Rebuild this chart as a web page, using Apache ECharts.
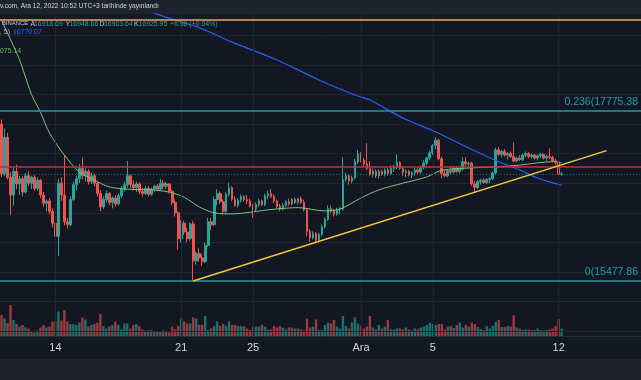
<!DOCTYPE html>
<html><head><meta charset="utf-8">
<script src="https://cdn.jsdelivr.net/npm/echarts@6/dist/echarts.min.js"></script>
<style>html,body{margin:0;padding:0;background:#131722;overflow:hidden}#c{width:641px;height:380px}</style>
</head><body><div id="c"></div>
<script>
// 4h candles, BTC/USDT Binance, 11 Nov 2022 03:00 (UTC+3) .. 12 Dec 2022 07:00
// rows: [open, high, low, close]
const ohlc = [
[17600,17660,16880,16930],[16930,17540,16900,17420],[17420,17480,16850,16880],[16880,16950,16370,16640],
[16640,17020,16500,16960],[16960,17050,16720,16790],[16790,16900,16640,16860],[16860,16890,16620,16680],
[16680,16940,16660,16900],[16900,16960,16760,16800],[16800,16900,16720,16880],[16880,16910,16700,16730],
[16730,16880,16700,16840],[16840,16860,16600,16640],[16640,16680,16480,16530],[16530,16580,16420,16560],
[16560,16600,16380,16420],[16420,16460,16200,16260],[16260,16330,15990,16080],[16080,16860,15820,16800],
[16800,16880,16560,16640],[16640,17180,16230,16280],[16280,16330,16190,16240],[16240,16620,16220,16580],
[16580,16820,16560,16780],[16780,16900,16700,16860],[16860,17060,16800,17000],[17000,17150,16850,16900],
[16900,17000,16820,16960],[16960,16990,16780,16820],[16820,16940,16790,16900],[16900,16930,16760,16800],
[16800,16830,16620,16660],[16660,16700,16420,16480],[16480,16620,16450,16580],[16580,16700,16540,16660],
[16660,16680,16500,16540],[16540,16620,16460,16600],[16600,16640,16480,16520],[16520,16660,16500,16630],
[16630,16760,16600,16720],[16720,16820,16690,16780],[16780,17100,16740,16900],[16900,16920,16740,16780],
[16780,16840,16700,16740],[16740,16820,16680,16790],[16790,16810,16650,16690],[16690,16740,16620,16660],
[16660,16760,16640,16730],[16730,16760,16620,16650],[16650,16740,16630,16720],[16720,16780,16680,16760],
[16760,16790,16690,16720],[16720,16860,16700,16800],[16800,16840,16720,16760],[16760,16820,16720,16790],
[16790,16800,16660,16690],[16690,16710,16500,16540],[16540,16580,16350,16400],[16400,16420,15900,16050],
[16050,16300,16000,16260],[16260,16290,16100,16140],[16140,16200,16000,16050],[16050,16270,16020,16250],
[16250,16290,15480,15750],[15750,15880,15700,15850],[15850,15920,15740,15790],[15790,15840,15680,15740],
[15740,16000,15720,15960],[15960,16330,15940,16280],[16280,16330,16170,16240],[16240,16620,16220,16580],
[16580,16720,16500,16660],[16660,16690,16520,16550],[16550,16580,16380,16420],[16420,16680,16400,16650],
[16650,16810,16620,16740],[16740,16760,16560,16580],[16580,16620,16480,16500],[16500,16600,16470,16570],
[16570,16650,16540,16620],[16620,16640,16550,16580],[16580,16640,16520,16560],[16560,16590,16470,16490],
[16490,16520,16330,16450],[16450,16540,16420,16510],[16510,16590,16480,16560],[16560,16580,16490,16510],
[16510,16660,16490,16630],[16630,16700,16580,16660],[16660,16720,16600,16620],[16620,16650,16530,16560],
[16560,16580,16460,16490],[16490,16520,16420,16450],[16450,16530,16430,16500],[16500,16570,16480,16550],
[16550,16590,16500,16520],[16520,16600,16500,16580],[16580,16610,16520,16540],[16540,16600,16510,16590],
[16590,16620,16520,16540],[16540,16580,16420,16440],[16440,16460,16080,16150],[16150,16180,16010,16060],
[16060,16150,16040,16120],[16120,16140,15990,16030],[16030,16130,16000,16110],[16110,16240,16080,16210],
[16210,16340,16190,16310],[16310,16500,16290,16460],[16460,16500,16400,16420],[16420,16450,16350,16380],
[16380,16470,16360,16440],[16440,16480,16380,16450],[16450,17150,16430,16850],[16850,16940,16820,16900],
[16900,16920,16780,16830],[16830,16900,16800,16870],[16870,17130,16850,17090],[17090,17250,17060,17200],
[17200,17220,17080,17110],[17110,17140,17020,17060],[17060,17340,16980,17000],[17000,17100,16900,16920],
[16920,17000,16880,16960],[16960,16990,16870,16900],[16900,16990,16860,16960],[16960,16980,16900,16920],
[16920,17000,16890,16980],[16980,17010,16900,16930],[16930,17040,16910,17000],[17000,17050,16950,17020],
[17020,17190,16990,17080],[17080,17100,16980,17000],[17000,17020,16900,16940],[16940,16990,16880,16960],
[16960,16980,16890,16910],[16910,16960,16870,16940],[16940,17010,16900,16980],[16980,17000,16920,16950],
[16950,17040,16930,17010],[17010,17110,16990,17070],[17070,17160,17040,17140],[17140,17240,17110,17210],
[17210,17330,17180,17310],[17310,17425,17260,17380],[17380,17400,17110,17130],[17130,17160,16870,16930],
[16930,16990,16880,16900],[16900,16990,16880,16970],[16970,17020,16920,16950],[16950,17030,16930,17000],
[17000,17030,16940,16960],[16960,17010,16930,16990],[16990,17150,16970,17090],[17090,17150,17030,17060],
[17060,17090,17020,17070],[17070,17090,16760,16790],[16790,16830,16680,16740],[16740,16840,16720,16820],
[16820,16860,16780,16840],[16840,16870,16790,16810],[16810,16870,16790,16850],[16850,16880,16800,16860],
[16860,16960,16840,16940],[16940,17280,16920,17250],[17250,17290,17170,17190],[17190,17250,17150,17230],
[17230,17260,17160,17180],[17180,17220,17120,17200],[17200,17230,17140,17160],[17160,17350,17080,17100],
[17100,17160,17080,17140],[17140,17180,17100,17120],[17120,17200,17100,17180],[17180,17230,17150,17200],
[17200,17220,17140,17160],[17160,17200,17130,17180],[17180,17200,17120,17140],[17140,17190,17110,17170],
[17170,17210,17140,17190],[17190,17200,17120,17140],[17140,17180,17100,17160],[17160,17270,17120,17150],
[17150,17170,17080,17100],[17100,17130,17040,17090],[17090,17110,16870,16918.69],[16918.69,16948.66,16903.64,16925.95]
];
// volume (thousand BTC)
const volume = [
42,35,26,62,32,24,19,22,17,15,10,7,11,17,22,17,19,29,29,49,31,52,29,24,24,22,27,37,33,19,
22,24,27,44,20,15,19,22,29,22,13,25,25,15,22,24,20,13,11,11,12,10,10,9,11,9,7,19,13,20,
35,29,25,25,37,35,22,22,40,12,15,20,29,20,24,20,29,22,22,20,20,19,15,12,19,19,19,22,19,13,
13,20,17,20,17,13,17,17,15,15,13,11,35,17,19,33,12,12,22,27,25,32,19,15,40,20,15,27,37,25,
20,15,19,40,17,13,22,15,19,32,13,13,15,15,13,17,13,11,15,13,17,19,22,27,24,22,24,24,13,19,
20,16,22,27,17,22,19,27,24,18,14,12,20,15,20,28,32,18,18,20,19,42,17,15,12,13,13,12,12,15,
12,11,12,13,15,20,34,15
];
// moving averages: [candle index, price]
const maGreen = [[0,19000],[6,18470],[10,18000],[13,17760],[16,17480],[21,17180],[26,16950],[31,16840],
[36,16750],[42,16720],[50,16710],[56,16680],[61,16610],[66,16480],[71,16400],[77,16385],[89,16440],
[99,16470],[108,16425],[113,16450],[120,16600],[126,16710],[134,16800],[142,16885],[147,16975],
[156,17005],[165,17020],[173,17045],[184,17090],[187,17075]];
const maBlue = [[45,19250],[51,19100],[66,18900],[78,18690],[92,18465],[106,18195],[118,17992],[123,17924],
[134,17681],[145,17492],[156,17276],[167,17073],[173,16978],[179,16870],[187,16770]];
const trendLine = [[64,15478],[202,17240]];
const fibLevels = [{v:17775.38, t:'0.236(17775.38'},{v:15477.86, t:'0(15477.86'}];
const redLevel = 17020, orangeLevel = 19005, lastPrice = 16925.95;
const tickIndex = [18,60,84,120,144,186];
const tickText = ['14','21','25','Ara','5','12'];

const N = 214;
const categories = [];
const t0 = Date.UTC(2022,10,11,3);
for (let i=0;i<N;i++){ const d=new Date(t0+i*4*3600e3); categories.push(d.toISOString().slice(0,13)); }

const candleData = ohlc.map(r=>[r[0],r[3],r[2],r[1]]);
const UP='#26a69a', DOWN='#ef5350';
const volData = volume.map((v,i)=>({value:v,itemStyle:{color: ohlc[i][3]>=ohlc[i][0]?'rgba(38,166,154,0.62)':'rgba(239,83,80,0.62)'}}));
const grid='#1f2432';
const F='"Liberation Sans"';
const leg = (x,y,text,fill,size)=>({type:'text',x:x,y:y,z:101,silent:true,style:{text:text,fill:fill,font:size+'px '+F}});

const chart = echarts.init(document.getElementById('c'));
chart.setOption({
  animation:false,
  backgroundColor:'#131722',
  grid:[{left:-1,top:13,width:642.6,height:288.6},{left:-1,top:301,width:642.6,height:35}],
  xAxis:[
    {type:'category',data:categories,gridIndex:0,axisLine:{show:false},axisTick:{show:false},axisLabel:{show:false},splitLine:{show:false}},
    {type:'category',data:categories,gridIndex:1,axisLine:{show:true,lineStyle:{color:'#2a2e39'}},axisTick:{show:false},
     axisLabel:{interval:(i)=>tickIndex.includes(i),formatter:(v,i)=>tickText[tickIndex.indexOf(i)]||'',color:'#d1d4dc',fontSize:11,margin:6,fontFamily:'Liberation Sans'},splitLine:{show:false}}
  ],
  yAxis:[
    {gridIndex:0,min:15200,max:19100,interval:400,position:'right',axisLabel:{show:false},axisLine:{show:false},axisTick:{show:false},splitLine:{lineStyle:{color:grid}}},
    {gridIndex:1,min:0,max:70,axisLabel:{show:false},axisLine:{show:false},axisTick:{show:false},splitLine:{show:false}}
  ],
  graphic:[
    {type:'rect',shape:{x:0,y:13,width:641,height:7},style:{fill:'#151a28'},z:0,silent:true},
    {type:'rect',shape:{x:0,y:0,width:641,height:13},style:{fill:'#1e222d'},z:100,silent:true},
    {type:'rect',shape:{x:0,y:359,width:641,height:21},style:{fill:'#1f222b'},z:100,silent:true},
    leg(0,3,'v.com, Ara 12, 2022 10:52 UTC+3 tarihinde yayınlandı','#d1d4dc',6.6),
    leg(2,20.5,'BINANCE','#c3c6ce',5.9),
    leg(30.5,20.5,'A','#c3c6ce',6.9), leg(34,20.5,'16918.69','#26a69a',6.9),
    leg(65.5,20.5,'Y','#c3c6ce',6.9), leg(69.5,20.5,'16948.66','#26a69a',6.9),
    leg(99.5,20.5,'D','#c3c6ce',6.9), leg(104,20.5,'16903.64','#26a69a',6.9),
    leg(134,20.5,'K','#c3c6ce',6.9), leg(138.5,20.5,'16925.95','#26a69a',6.9),
    leg(170,20.5,'+6.98 (+0.04%)','#26a69a',6.9),
    leg(0,28.5,', 5)','#b2b5be',6.9), leg(13,28.5,'16770.07','#2962ff',6.9),
    leg(0,47.5,'075.14','#66bb6a',6.9)
  ],
  series:[
    {type:'line',data:[],xAxisIndex:0,yAxisIndex:0,z:1,silent:true,
     markLine:{symbol:['none','none'],silent:true,animation:false,label:{show:false},lineStyle:{color:grid,type:'solid',width:1},
       data:tickIndex.map(i=>({xAxis:categories[i]}))}},
    {type:'line',data:[],xAxisIndex:1,yAxisIndex:1,z:1,silent:true,
     markLine:{symbol:['none','none'],silent:true,animation:false,label:{show:false},lineStyle:{color:grid,type:'solid',width:1},
       data:tickIndex.map(i=>({xAxis:categories[i]})).concat([{yAxis:70,lineStyle:{color:'#262a36'}},{yAxis:10}])}},
    {type:'candlestick',data:candleData,xAxisIndex:0,yAxisIndex:0,barWidth:2.2,z:3,
     itemStyle:{color:UP,color0:DOWN,borderColor:UP,borderColor0:DOWN,borderWidth:1},
     markLine:{symbol:['none','none'],silent:true,animation:false,label:{show:false},
       data:[
         ...fibLevels.map(f=>({yAxis:f.v,lineStyle:{color:'#2596a4',width:1.5,type:'solid'},
           label:{show:true,position:'insideEndTop',formatter:f.t,color:'#2a9aa8',fontSize:10.5,fontFamily:'Liberation Sans',distance:3}})),
         {yAxis:redLevel,lineStyle:{color:'#c62f3b',width:1.5,type:'solid'}},
         {yAxis:lastPrice,lineStyle:{color:'#26a69a',width:1,type:[1,2],opacity:0.6}},
         {yAxis:orangeLevel,lineStyle:{color:'#eea35e',width:1.5,type:'solid'}}
       ]}},
    {type:'line',data:maGreen,xAxisIndex:0,yAxisIndex:0,smooth:0.3,showSymbol:false,z:4,lineStyle:{color:'#7cc47f',width:1}},
    {type:'line',data:maBlue,xAxisIndex:0,yAxisIndex:0,smooth:0.3,showSymbol:false,z:4,lineStyle:{color:'#2962ff',width:1.2}},
    {type:'line',data:trendLine,xAxisIndex:0,yAxisIndex:0,showSymbol:false,z:5,lineStyle:{color:'#f5c842',width:1.5}},
    {type:'bar',data:volData,xAxisIndex:1,yAxisIndex:1,barWidth:'80%',z:3}
  ]
});
</script></body></html>
